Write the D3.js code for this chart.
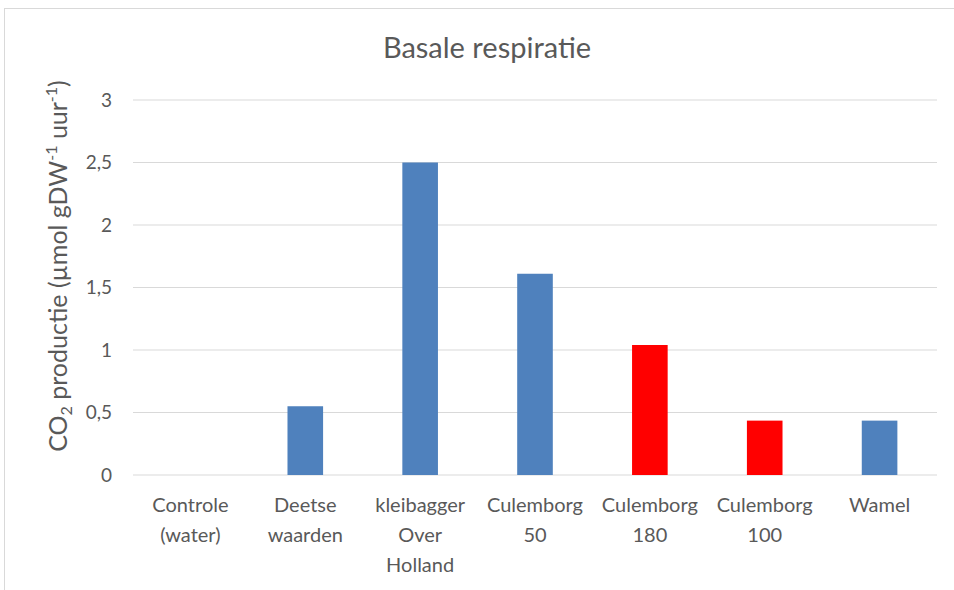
<!DOCTYPE html>
<html>
<head>
<meta charset="utf-8">
<script src="https://cdn.jsdelivr.net/npm/d3@7"></script>
<style>
  body { margin: 0; background: #fff; }
  text { font-family: Lato, "Open Sans", sans-serif; fill: #595959; }
</style>
</head>
<body>
<script>
// data
var categories = [
  ["Controle", "(water)"],
  ["Deetse", "waarden"],
  ["kleibagger", "Over", "Holland"],
  ["Culemborg", "50"],
  ["Culemborg", "180"],
  ["Culemborg", "100"],
  ["Wamel"]
];
var values = [0, 0.55, 2.5, 1.61, 1.04, 0.435, 0.435];
var highlighted = [false, false, false, false, true, true, false];
var yTicks = [0, 0.5, 1, 1.5, 2, 2.5, 3];

var w = 954, h = 590;
var margin = {top: 100, right: 17, bottom: 115, left: 133};
var graphWidth = w - margin.left - margin.right;
var graphHeight = h - margin.top - margin.bottom;

var svg = d3.select("body").append("svg")
  .attr("width", w)
  .attr("height", h);

// chart border
svg.append("rect")
  .attr("x", 4.5).attr("y", 8.5)
  .attr("width", w + 10).attr("height", h + 10)
  .attr("fill", "none")
  .attr("stroke", "#d9d9d9");

svg.append("text")
  .attr("x", 487).attr("y", 58)
  .attr("text-anchor", "middle")
  .attr("font-size", 29)
  .text("Basale respiratie");

var graph = svg.append("g")
  .attr("transform", `translate(${margin.left}, ${margin.top})`);

var xScale = d3.scaleBand()
  .domain(d3.range(categories.length))
  .range([0, graphWidth])
  .paddingInner(0.69)
  .paddingOuter(0.345);

var yScale = d3.scaleLinear()
  .domain([0, 3])
  .range([graphHeight, 0]);

// gridlines
graph.append("g")
  .selectAll("line")
  .data(yTicks)
  .enter().append("line")
  .attr("x1", 0).attr("x2", graphWidth)
  .attr("y1", d => yScale(d)).attr("y2", d => yScale(d))
  .attr("stroke", "#d9d9d9")
  .attr("stroke-width", 1.2);

// y axis labels
var yAxis = graph.append("g")
  .call(d3.axisLeft(yScale).tickValues(yTicks).tickSize(0).tickPadding(21)
    .tickFormat(d => String(d).replace(".", ",")));
yAxis.select(".domain").remove();
yAxis.selectAll("text")
  .attr("font-size", 19)
  .attr("font-family", "Lato, 'Open Sans', sans-serif")
  .attr("fill", "#595959");

// bars
graph.selectAll("rect.bar")
  .data(values)
  .enter().append("rect")
  .attr("class", "bar")
  .attr("x", (d, i) => xScale(i))
  .attr("width", xScale.bandwidth())
  .attr("y", d => yScale(d))
  .attr("height", d => graphHeight - yScale(d))
  .attr("fill", (d, i) => highlighted[i] ? "#ff0000" : "#4f81bd");

// x labels
var xl = graph.append("g").attr("transform", `translate(0, ${graphHeight})`);
xl.selectAll("text")
  .data(categories)
  .enter().append("text")
  .attr("text-anchor", "middle")
  .attr("font-size", 20)
  .each(function(lines, i) {
    var cx = xScale(i) + xScale.bandwidth() / 2;
    d3.select(this).selectAll("tspan")
      .data(lines)
      .enter().append("tspan")
      .attr("x", cx)
      .attr("y", (d, j) => 37 + j * 30)
      .text(d => d);
  });

// y axis title with sub/superscripts
var yt = svg.append("text")
  .attr("transform", "translate(67, 266) rotate(-90)")
  .attr("text-anchor", "middle")
  .attr("font-size", 25);
yt.append("tspan").text("CO");
yt.append("tspan").attr("font-size", 16).attr("dy", 5).text("2");
yt.append("tspan").attr("dy", -5).text(" productie (µmol gDW");
yt.append("tspan").attr("font-size", 16).attr("dy", -10).text("-1");
yt.append("tspan").attr("dy", 10).text(" uur");
yt.append("tspan").attr("font-size", 16).attr("dy", -10).text("-1");
yt.append("tspan").attr("dy", 10).text(")");
</script>
</body>
</html>
